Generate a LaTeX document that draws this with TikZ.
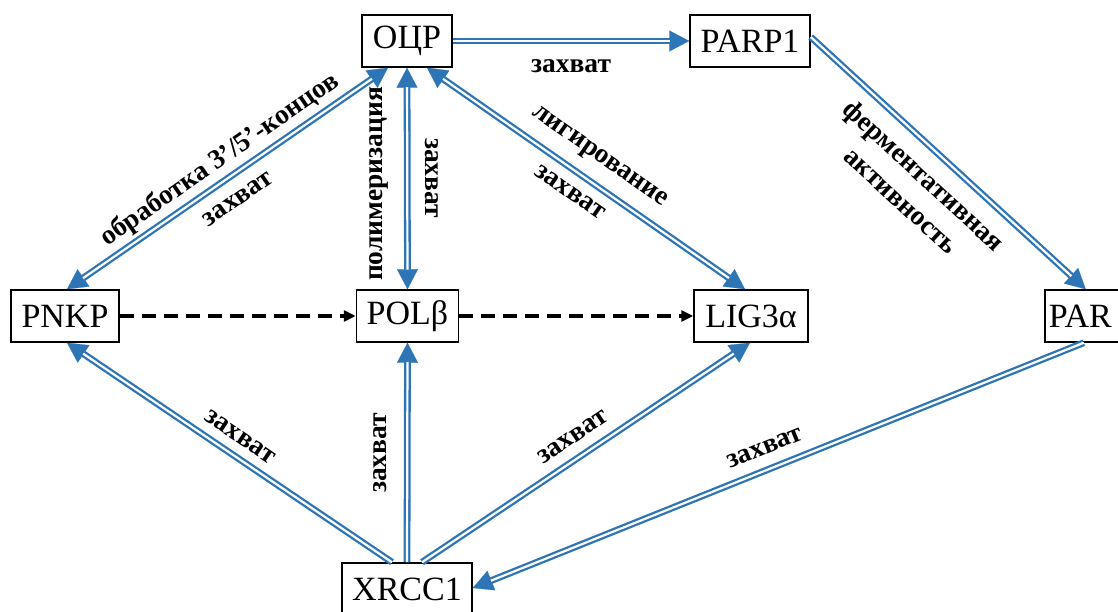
\documentclass[tikz,border=0pt]{standalone}
\usepackage{fontspec}
\setmainfont{Liberation Serif}
\usetikzlibrary{arrows.meta}
\definecolor{bl}{RGB}{46,117,182}
\tikzset{
  box/.style={draw=black, line width=1.5pt, inner sep=0pt, minimum height=52pt, font=\fontsize{34}{38}\selectfont, fill=white},
  lbl/.style={font=\bfseries\fontsize{27.5}{34}\selectfont, inner sep=0pt, align=center},
  dbl/.style={draw=bl, line width=2.3pt, double=white, double distance=2.2pt},
  tipln/.style={draw=bl, line width=0.2pt},
  dsh/.style={draw=black, line width=3.2pt, dash pattern=on 14pt off 8pt, -{Triangle[length=12pt,width=11pt]}},
}
\newcommand\arrTo[2]{\draw[tipln,-{Triangle[length=20pt,width=21pt]}] #1 -- #2; \draw[dbl,shorten >=19.5pt] #1 -- #2;}
\newcommand\arrBoth[2]{\draw[tipln,{Triangle[length=20pt,width=21pt]}-{Triangle[length=20pt,width=21pt]}] #1 -- #2; \draw[dbl,shorten >=19.5pt,shorten <=19.5pt] #1 -- #2;}
\begin{document}
\begin{tikzpicture}[x=1pt,y=1pt]
\useasboundingbox (0,0) rectangle (1118,612);
\clip (0,0) rectangle (1118,612);
% nodes
\node[box, minimum width=90pt] (ocr) at (407,571) {ОЦР};
\node[box, minimum width=120pt] (parp) at (750,571) {PARP1};
\node[box, minimum width=108pt] (pnkp) at (65,296) {PNKP};
\node[box, minimum width=102pt] (pol) at (407.5,296) {POLβ};
\node[box, minimum width=114pt] (lig) at (751,296) {LIG3α};
\node[box, anchor=west, text width=76pt, inner xsep=4pt, align=left] (par) at (1044,296) {PAR};
\node[box, minimum width=130pt] (xrcc) at (407,23) {XRCC1};
% connectors
\arrTo{(ocr.east)}{(parp.west)}
\arrTo{([yshift=4pt]parp.east)}{([xshift=-1pt]par.north)}
\arrBoth{([xshift=-19pt]ocr.south)}{([xshift=2pt]pnkp.north)}
\arrBoth{(ocr.south)}{(pol.north)}
\arrBoth{([xshift=20pt]ocr.south)}{([xshift=-6pt]lig.north)}
\draw[dsh] (pnkp.east) -- (pol.west);
\draw[dsh] (pol.east) -- (lig.west);
\arrTo{([xshift=-15pt]xrcc.north)}{([xshift=2pt]pnkp.south)}
\arrTo{(xrcc.north)}{(pol.south)}
\arrTo{([xshift=15pt]xrcc.north)}{([xshift=-1pt]lig.south)}
\arrTo{([xshift=-3pt]par.south)}{([yshift=1pt]xrcc.east)}
% labels
\node[lbl] (l1) at (571,546) {захват};
\node[lbl, rotate=34.8] (l2) at (220,452) {обработка 3’/5’-концов};
\node[lbl, rotate=34.8] (l3) at (238,413) {захват};
\node[lbl, rotate=90] (l4) at (379,428) {полимеризация};
\node[lbl, rotate=-90] (l5) at (432,434) {захват};
\node[lbl, rotate=-35] (l6) at (599,454) {лигирование};
\node[lbl, rotate=-35] (l7) at (570,420) {захват};
\node[lbl, rotate=-42.7] (l8) at (913,424.5) {ферментативная\\активность};
\node[lbl, rotate=-34.2] (l9) at (240,175) {захват};
\node[lbl, rotate=90] (l10) at (380,159) {захват};
\node[lbl, rotate=34] (l11) at (573,175) {захват};
\node[lbl, rotate=21.9] (l12) at (765,164) {захват};
\end{tikzpicture}
\end{document}
